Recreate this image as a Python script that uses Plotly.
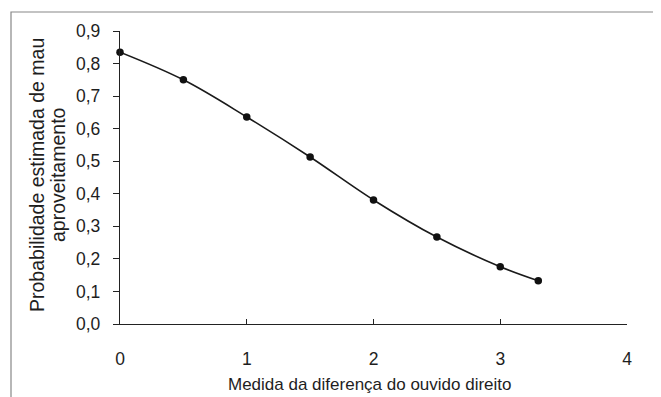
import plotly.graph_objects as go

x_vals = [0, 0.5, 1, 1.5, 2, 2.5, 3, 3.3]
y_vals = [0.835, 0.750, 0.636, 0.513, 0.381, 0.267, 0.176, 0.133]
x_ticks = [0, 1, 2, 3, 4]
y_ticks = [0.0, 0.1, 0.2, 0.3, 0.4, 0.5, 0.6, 0.7, 0.8, 0.9]

fig = go.Figure()
fig.add_trace(go.Scatter(
    x=x_vals, y=y_vals, mode="lines+markers",
    line=dict(color="#1a1a1a", width=1.6, shape="spline"),
    marker=dict(color="#111111", size=7.5),
    showlegend=False, cliponaxis=False,
))

FAM = "Liberation Sans, Arial, sans-serif"
tick_font = dict(family=FAM, size=17.5, color="#1e1e1e")
xt_font = dict(family=FAM, size=17, color="#1e1e1e")
yt_font = dict(family=FAM, size=19.5, color="#1e1e1e")

OFF = 8  # page body margin
W, H = 661 - OFF, 397 - OFF
# plot area in page pixels: x 120..627, y 31..324
L, R, T, B = 120 - OFF, 661 - 627, 31 - OFF, 397 - 324
pw, ph = W - L - R, H - T - B


def px(xp):
    return (xp - OFF - L) / pw


def py(yp):
    return (H - B - (yp - OFF)) / ph


fig.update_layout(
    width=W, height=H,
    margin=dict(l=L, r=R, t=T, b=B, autoexpand=False),
    paper_bgcolor="white", plot_bgcolor="white",
    separators=",.",
    font=tick_font,
    xaxis=dict(
        range=[0, 4], tickvals=x_ticks, tickformat="d",
        showline=True, linecolor="#222222", linewidth=1.3,
        ticks="inside", ticklen=5, tickcolor="#222222",
        showgrid=False, zeroline=False, automargin=False,
        ticklabelstandoff=19, tickfont=tick_font,
    ),
    yaxis=dict(
        range=[0, 0.9], tickvals=y_ticks, tickformat=".1f",
        showline=True, linecolor="#222222", linewidth=1.3,
        ticks="outside", ticklen=6, tickcolor="#222222",
        showgrid=False, zeroline=False, automargin=False,
        ticklabelstandoff=9, tickfont=tick_font,
    ),
)

fig.add_annotation(text="Medida da diferença do ouvido direito", xref="paper", yref="paper",
                   x=px(370), y=py(384), showarrow=False, font=xt_font,
                   xanchor="center", yanchor="middle")
fig.add_annotation(text="Probabilidade estimada de mau", xref="paper", yref="paper",
                   x=px(37), y=py(175), showarrow=False, font=yt_font, textangle=-90,
                   xanchor="center", yanchor="middle")
fig.add_annotation(text="aproveitamento", xref="paper", yref="paper",
                   x=px(58), y=py(175), showarrow=False, font=yt_font, textangle=-90,
                   xanchor="center", yanchor="middle")

fig.add_shape(type="rect", xref="paper", yref="paper",
              x0=px(11), y0=py(410), x1=px(675), y1=py(12),
              line=dict(color="#888888", width=1.2), fillcolor="rgba(0,0,0,0)")

fig.write_html("out.html")
